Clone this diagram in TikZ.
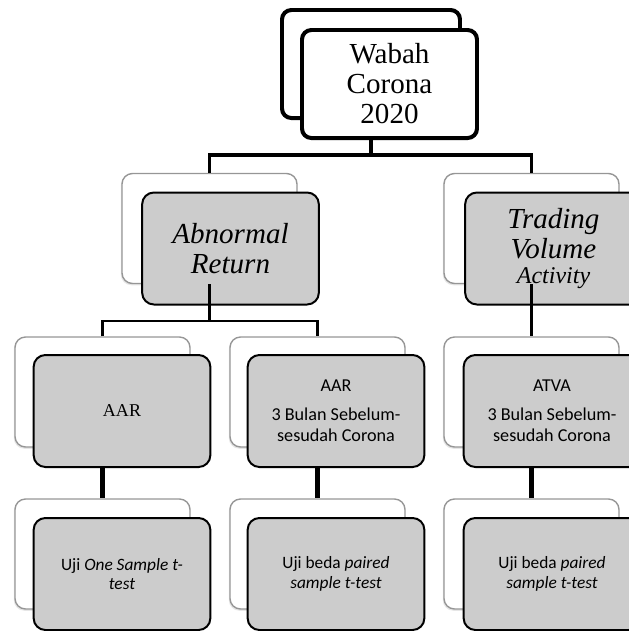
\documentclass[tikz,border=0pt]{standalone}
\usepackage{fontspec}
\setmainfont{Liberation Serif}
\newfontfamily\calibri{Carlito}
\usepackage{tikz}
\usetikzlibrary{positioning,calc}
\usetikzlibrary{shadows}
\definecolor{BoxGray}{RGB}{204,204,204}
\definecolor{EdgeGray}{RGB}{150,150,150}
\tikzset{
  topback/.style={draw=black,line width=3.4pt,fill=white,rounded corners=8pt,
    minimum width=5.34cm,minimum height=3.24cm},
  topfront/.style={topback,minimum width=5.25cm,align=center,
    font=\fontsize{24.8}{25.6}\selectfont},
  back/.style={draw=EdgeGray,line width=1.2pt,fill=white,rounded corners=9pt,
    minimum width=5.25cm,minimum height=3.3cm,
    drop shadow={shadow xshift=-1pt,shadow yshift=-1.5pt,opacity=.2}},
  front/.style={draw=black,line width=1.7pt,fill=BoxGray,rounded corners=10pt,
    minimum width=5.3cm,minimum height=3.36cm,align=center},
}
\tikzset{link/.style={draw=black,line width=3pt}, big/.style={font=\itshape\fontsize{24.8}{25.6}\selectfont}, cal/.style={font=\calibri\fontsize{15.5}{18}\selectfont}, uji/.style={font=\calibri\fontsize{14.8}{17}\selectfont}}

\begin{document}
\begin{tikzpicture}[x=0.03cm,y=-0.03cm]
\useasboundingbox (0,0) rectangle (629,631);
\clip (0,0) rectangle (629,631);
\node[topback] (wb0) at (371,64) {};
\node[topfront] (wb) at (389.5,84) {Wabah\\Corona\\2020};
\node[back] (ar0) at (209.5,228.5) {};
\node[front,big] (ar) at (230.5,248.5) {Abnormal\\Return};
\node[back] (tv0) at (531.5,228.5) {};
\node[front,big] (tv) at (553.5,248.5) {Trading\\Volume\\[-4.3pt]{\fontsize{20.5}{25.6}\selectfont Activity}};
\node[back] (aar0) at (102.5,392) {};
\node[front,font=\fontsize{15.4}{18}\selectfont] (aar) at (122,411) {AAR};
\node[back] (bln0) at (317.5,392) {};
\node[front,cal] (bln) at (336,411) {AAR\\[6.7pt]3 Bulan Sebelum-\\sesudah Corona};
\node[back] (atva0) at (531.5,392) {};
\node[front,cal] (atva) at (552,411) {ATVA\\[6.7pt]3 Bulan Sebelum-\\sesudah Corona};
\node[back] (uji0) at (102.5,554) {};
\node[front,uji] (uji) at (122,574) {Uji \textit{One Sample t-}\\\textit{test}};
\node[back] (bda0) at (317.5,554) {};
\node[front,uji] (bda) at (336,574) {Uji beda \textit{paired}\\\textit{sample t-test}};
\node[back] (bdb0) at (531.5,554) {};
\node[front,uji] (bdb) at (552,574) {Uji beda \textit{paired}\\\textit{sample t-test}};
\coordinate (j1) at (371,155);
\coordinate (j2) at (209.5,321);
\draw[link,line width=3.4pt] (wb.south -| wb0.south) -- (j1);
\draw[link] (ar0.north) |- (j1) -| (tv0.north);
\draw[link,line width=2.4pt] (ar0.south) -- (j2);
\draw[link,line width=2.4pt] (aar0.north) |- (j2) -| (bln0.north);
\draw[link] (tv0.south) -- (atva0.north);
\draw[link,line width=4pt] (aar.south -| aar0.south) -- (uji0.north);
\draw[link,line width=4pt] (bln.south -| bln0.south) -- (bda0.north);
\draw[link,line width=4pt] (atva.south -| atva0.south) -- (bdb0.north);
\end{tikzpicture}
\end{document}
